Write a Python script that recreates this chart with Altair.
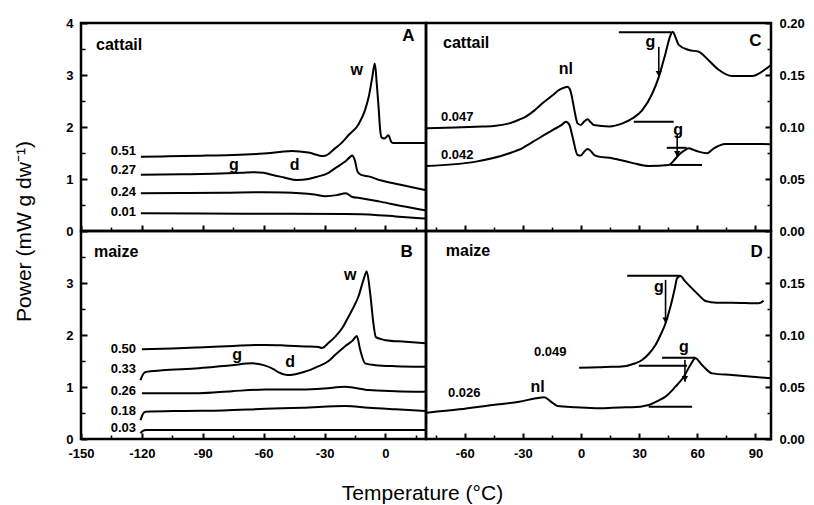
import altair as alt
import pandas as pd

FONT = "Liberation Sans"

# ---------------- Panel A : cattail, -150..20 C ----------------
A_names = ["0.51", "0.27", "0.24", "0.01"]
A_051_T = [-120.5, -110, -100, -88.5, -75, -60, -52, -46, -38, -30.5, -28, -26, -22, -18, -13.3, -10, -8, -6.5, -5.2, -4.2, -3.4, -2.6, -1.9, -0.5, 1.5, 2.8, 4, 10, 19.5]
A_051_P = [1.43, 1.435, 1.44, 1.45, 1.46, 1.49, 1.52, 1.54, 1.51, 1.44, 1.48, 1.55, 1.68, 1.85, 2.05, 2.33, 2.62, 2.95, 3.22, 2.8, 2.4, 1.95, 1.8, 1.78, 1.84, 1.72, 1.69, 1.69, 1.69]
A_027_T = [-120.5, -100, -85, -70.5, -65, -60, -56, -50, -43.6, -38, -34, -28, -24.7, -20, -17.5, -16.4, -15, -13.8, -12, -8.3, -2, 5, 12, 19.5]
A_027_P = [1.08, 1.09, 1.10, 1.12, 1.13, 1.12, 1.08, 1.03, 0.98, 1.0, 1.04, 1.12, 1.21, 1.33, 1.42, 1.45, 1.35, 1.15, 1.08, 1.05, 0.97, 0.91, 0.85, 0.79]
A_024_T = [-120.5, -100, -80, -60, -50, -42, -35, -29.5, -24, -19.5, -16.6, -12, -2, 8, 19.5]
A_024_P = [0.725, 0.73, 0.735, 0.745, 0.74, 0.725, 0.70, 0.67, 0.69, 0.725, 0.66, 0.63, 0.56, 0.48, 0.40]
A_001_T = [-120.5, -90, -50, -20, -5, 5, 19.5]
A_001_P = [0.34, 0.335, 0.33, 0.325, 0.31, 0.28, 0.24]
A_lab_T = [-122.9, -122.9, -122.9, -122.9]
A_lab_P = [1.54, 1.17, 0.755, 0.37]
A_ann_text = ["w", "g", "d"]
A_ann_T = [-14.2, -74.7, -44.7]
A_ann_P = [3.1, 1.27, 1.27]

# ---------------- Panel B : maize, -150..20 C ----------------
B_names = ["0.50", "0.33", "0.26", "0.18", "0.03"]
B_050_T = [-120, -105, -92, -75, -59, -50, -40, -33, -31.3, -28, -24.7, -21, -18.2, -15.5, -13.3, -10.8, -9.2, -7.5, -5.9, -4.7, -2, 0, 10, 19.5]
B_050_P = [1.725, 1.74, 1.76, 1.79, 1.81, 1.80, 1.78, 1.77, 1.75, 1.85, 1.97, 2.15, 2.35, 2.55, 2.74, 3.06, 3.22, 2.80, 2.22, 1.96, 1.92, 1.90, 1.87, 1.84]
B_033_T = [-120.7, -119.5, -118.2, -110, -92, -75.6, -65.7, -60, -55, -52.6, -48.5, -45, -41.1, -37, -32.9, -28, -24.7, -20, -16, -14.1, -12.4, -10, -5, 5, 19.5]
B_033_P = [1.13, 1.24, 1.29, 1.32, 1.36, 1.42, 1.455, 1.42, 1.34, 1.28, 1.23, 1.24, 1.28, 1.33, 1.40, 1.50, 1.62, 1.78, 1.90, 1.98, 1.71, 1.455, 1.42, 1.40, 1.39]
B_026_T = [-120, -100, -92, -75.6, -59.2, -41.1, -30, -19.8, -8.3, 5, 19.5]
B_026_P = [0.88, 0.88, 0.88, 0.92, 0.95, 0.95, 0.97, 1.005, 0.94, 0.92, 0.91]
B_018_T = [-120.7, -119.5, -118.2, -100, -80, -59, -41, -19.8, -8.3, 5, 19.5]
B_018_P = [0.36, 0.48, 0.525, 0.54, 0.55, 0.58, 0.60, 0.635, 0.60, 0.57, 0.54]
B_003_T = [-120.7, -119.5, -118, -60, 0, 19.5]
B_003_P = [0.11, 0.155, 0.175, 0.175, 0.175, 0.175]
B_lab_T = [-122.9] * 5
B_lab_P = [1.73, 1.35, 0.92, 0.54, 0.21]
B_ann_text = ["w", "g", "d"]
B_ann_T = [-17.3, -73.1, -46.9]
B_ann_P = [3.15, 1.615, 1.49]

# ---------------- Panel C : cattail, -80..98 C ----------------
C_names = ["0.047", "0.042"]
C_047_T = [-79.5, -65, -54.2, -45, -37, -32, -28.5, -24, -19.9, -15, -11.3, -8.5, -7, -5.5, -4.4, -3, -1.8, -0.1, 1.5, 3.4, 5, 6.6, 14.5, 21.4, 26.3, 31.5, 36.7, 40.1, 43.6, 46.1, 47.3, 49, 50.4, 55.6, 60.7, 65.9, 71, 77.9, 88.2, 95.1, 98]
C_047_P = [0.0987, 0.0995, 0.1003, 0.101, 0.1035, 0.107, 0.110, 0.116, 0.1228, 0.130, 0.1356, 0.138, 0.1388, 0.135, 0.126, 0.112, 0.1035, 0.102, 0.105, 0.1074, 0.1045, 0.102, 0.1006, 0.1035, 0.108, 0.116, 0.132, 0.148, 0.171, 0.188, 0.1916, 0.185, 0.179, 0.174, 0.1724, 0.164, 0.155, 0.149, 0.149, 0.1555, 0.1596]
C_042_T = [-79.5, -54.2, -37, -30, -23.3, -14.7, -10, -7.8, -6, -4.4, -1.8, -0.1, 1.5, 3.4, 5, 6.8, 9.2, 16, 26.3, 34.9, 45.3, 48, 50.4, 53, 55.6, 58, 60.7, 65, 68.5, 74.5, 85, 98]
C_042_P = [0.0625, 0.0667, 0.0747, 0.080, 0.0875, 0.0971, 0.102, 0.1051, 0.102, 0.0907, 0.0731, 0.0725, 0.076, 0.0788, 0.077, 0.0731, 0.0715, 0.070, 0.0655, 0.0625, 0.0635, 0.068, 0.0731, 0.077, 0.0795, 0.078, 0.0763, 0.0747, 0.0795, 0.0837, 0.0837, 0.0835]
C_lab_T = [-72.3, -72.3]
C_lab_P = [0.1096, 0.073]
C_ann_text = ["nl", "g", "g"]
C_ann_T = [-7.8, 35.8, 50.1]
C_ann_P = [0.156, 0.182, 0.097]
C_line_T1 = [19.5, 27.2, 44.2, 46.1]
C_line_T2 = [46.5, 47.8, 54.5, 62.4]
C_line_Y = [0.191, 0.105, 0.080, 0.0635]
C_arrow_T = [40.1, 49.6]
C_arrow_Y1 = [0.177, 0.0923]
C_arrow_Y2 = [0.1484, 0.0714]

# ---------------- Panel D : maize, -80..98 C ----------------
D_names = ["0.049", "0.026"]
D_049_T = [-1, 9.2, 16.2, 19.5, 28.1, 31.5, 35, 38.4, 41, 43.6, 45.5, 47, 48.5, 49.5, 51.3, 53.5, 55.6, 60.7, 64.2, 70, 77.9, 91.6, 94.2]
D_049_P = [0.0686, 0.0689, 0.0695, 0.0695, 0.0728, 0.076, 0.082, 0.0904, 0.100, 0.1113, 0.123, 0.1337, 0.146, 0.1545, 0.1567, 0.152, 0.148, 0.1385, 0.1327, 0.131, 0.1311, 0.1305, 0.133]
D_026_T = [-79.5, -62.8, -45.6, -31.9, -23.3, -19, -15.6, -12.1, -2.7, 9.2, 23.1, 26.3, 34.9, 40, 43.6, 48.7, 53, 56.4, 59, 62.4, 67.6, 77.9, 98]
D_026_P = [0.0253, 0.0285, 0.0327, 0.0359, 0.0391, 0.0401, 0.036, 0.0317, 0.0305, 0.0295, 0.0305, 0.0305, 0.0327, 0.037, 0.0407, 0.0503, 0.0599, 0.0712, 0.0776, 0.0712, 0.0631, 0.0615, 0.0583]
D_lab_T = [-24.3, -68.7]
D_lab_P = [0.0834, 0.044]
D_ann_text = ["nl", "g", "g"]
D_ann_T = [-22.4, 40.1, 53.0]
D_ann_P = [0.0503, 0.1465, 0.0888]
D_line_T1 = [23.8, 29.8, 41.8, 34.9]
D_line_T2 = [51.3, 54.7, 59.0, 57.3]
D_line_Y = [0.157, 0.0705, 0.0782, 0.031]
D_arrow_T = [43.6, 53.6]
D_arrow_Y1 = [0.153, 0.076]
D_arrow_Y2 = [0.1113, 0.0551]

# panel names / letters (data coordinates)
PANELS = {
    "A": dict(name="cattail", nT=-142.6, nP=3.58, lT=11.3, lP=3.75),
    "B": dict(name="maize", nT=-143.6, nP=3.60, lT=10.4, lP=3.60),
    "C": dict(name="cattail", nT=-71.2, nP=0.1805, lT=89.9, lP=0.183),
    "D": dict(name="maize", nT=-69.8, nP=0.181, lT=90.6, lP=0.180),
}

LEFT_X_MAJOR = [-150, -120, -90, -60, -30, 0]
LEFT_X_MINOR = [-135, -105, -75, -45, -15, 15]
RIGHT_X_MAJOR = [-60, -30, 0, 30, 60, 90]
RIGHT_X_MINOR = [-75, -45, -15, 15, 45, 75]
LEFT_Y_MINOR = [0.5, 1.5, 2.5, 3.5]
RIGHT_Y_MINOR = [0.025, 0.075, 0.125, 0.175]

W, H = 345, 208


def long_df(names, Ts, Ps):
    rows = []
    for name, ts, ps in zip(names, Ts, Ps):
        for i, (t, p) in enumerate(zip(ts, ps)):
            rows.append({"curve": name, "T": t, "P": p, "i": i})
    return pd.DataFrame(rows)


def axis(values, orient, major=True, labels=False, fmt=None, **extra):
    size = 6 if major else 4
    kw = dict(values=values, orient=orient, offset=-size, tickSize=size,
              tickWidth=2 if major else 1.5, tickColor="black",
              domain=False, grid=False, labels=labels)
    if labels:
        kw.update(labelFont=FONT, labelFontSize=13, labelFontWeight="bold",
                  labelColor="black", labelPadding=8, labelFlush=False,
                  labelOverlap=False,
                  labelExpr="replace(datum.label, '\u2212', '-')")
        if fmt:
            kw["format"] = fmt
    kw.update(extra)
    return alt.Axis(**kw)


def panel(key, df, xdom, ydom, xmaj_ax, xmin_ax, ymaj_ax, ymin_ax,
          lab_names, lab_T, lab_P, lab_align, ann_text, ann_T, ann_P,
          xtitle=None, ytitle=None, lines=None, arrows=None):
    xs = alt.Scale(domain=xdom, nice=False, zero=False)
    ys = alt.Scale(domain=ydom, nice=False, zero=False)
    layers = []
    layers.append(
        alt.Chart(df).mark_line(color="black", strokeWidth=2, interpolate="monotone", clip=True).encode(
            x=alt.X("T:Q", scale=xs, axis=xmaj_ax, title=xtitle),
            y=alt.Y("P:Q", scale=ys, axis=ymaj_ax, title=ytitle),
            detail="curve:N", order="i:Q")
    )
    lab_df = pd.DataFrame({"label": lab_names, "T": lab_T, "P": lab_P})
    layers.append(
        alt.Chart(lab_df).mark_text(font=FONT, fontSize=13, fontWeight="bold", align=lab_align,
                                    baseline="middle", color="black").encode(
            x=alt.X("T:Q", scale=xs, axis=xmin_ax, title=None),
            y=alt.Y("P:Q", scale=ys, axis=ymin_ax, title=None),
            text="label:N")
    )
    ann_df = pd.DataFrame({"label": ann_text, "T": ann_T, "P": ann_P})
    layers.append(
        alt.Chart(ann_df).mark_text(font=FONT, fontSize=16, fontWeight="bold", align="center",
                                    baseline="middle", color="black").encode(
            x=alt.X("T:Q", scale=xs, axis=None),
            y=alt.Y("P:Q", scale=ys, axis=None),
            text="label:N")
    )
    p = PANELS[key]
    name_df = pd.DataFrame({"label": [p["name"]], "T": [p["nT"]], "P": [p["nP"]]})
    layers.append(
        alt.Chart(name_df).mark_text(font=FONT, fontSize=16, fontWeight="bold", align="left",
                                     baseline="middle", color="black").encode(
            x=alt.X("T:Q", scale=xs, axis=None),
            y=alt.Y("P:Q", scale=ys, axis=None),
            text="label:N")
    )
    let_df = pd.DataFrame({"label": [key], "T": [p["lT"]], "P": [p["lP"]]})
    layers.append(
        alt.Chart(let_df).mark_text(font=FONT, fontSize=17, fontWeight="bold", align="center",
                                    baseline="middle", color="black").encode(
            x=alt.X("T:Q", scale=xs, axis=None),
            y=alt.Y("P:Q", scale=ys, axis=None),
            text="label:N")
    )
    if lines is not None:
        ldf = pd.DataFrame({"T1": lines[0], "T2": lines[1], "Y": lines[2]})
        layers.append(
            alt.Chart(ldf).mark_rule(color="black", strokeWidth=2).encode(
                x=alt.X("T1:Q", scale=xs, axis=None),
                x2="T2:Q",
                y=alt.Y("Y:Q", scale=ys, axis=None))
        )
    if arrows is not None:
        adf = pd.DataFrame({"T": arrows[0], "Y1": arrows[1], "Y2": arrows[2]})
        layers.append(
            alt.Chart(adf).mark_rule(color="black", strokeWidth=1.6).encode(
                x=alt.X("T:Q", scale=xs, axis=None),
                y=alt.Y("Y1:Q", scale=ys, axis=None),
                y2="Y2:Q")
        )
        layers.append(
            alt.Chart(adf).mark_point(shape="triangle-down", filled=True, size=40, color="black",
                                      opacity=1, yOffset=-3).encode(
                x=alt.X("T:Q", scale=xs, axis=None),
                y=alt.Y("Y2:Q", scale=ys, axis=None))
        )
    return alt.layer(*layers).resolve_axis(x="independent", y="independent").properties(width=W, height=H)


TITLE_KW = dict(titleFont=FONT, titleFontSize=21, titleFontWeight="normal", titleColor="black",
                titleAlign="center", titleBaseline="alphabetic")

dfA = long_df(A_names, [A_051_T, A_027_T, A_024_T, A_001_T], [A_051_P, A_027_P, A_024_P, A_001_P])
dfB = long_df(B_names, [B_050_T, B_033_T, B_026_T, B_018_T, B_003_T], [B_050_P, B_033_P, B_026_P, B_018_P, B_003_P])
dfC = long_df(C_names, [C_047_T, C_042_T], [C_047_P, C_042_P])
dfD = long_df(D_names, [D_049_T, D_026_T], [D_049_P, D_026_P])

chartA = panel(
    "A", dfA, [-150, 20], [0, 4],
    axis(LEFT_X_MAJOR, "bottom"), axis(LEFT_X_MINOR, "bottom", major=False),
    axis([0, 1, 2, 3, 4], "left", labels=True, titleX=-57, titleY=208, titleAngle=270, **TITLE_KW),
    axis(LEFT_Y_MINOR, "left", major=False),
    A_names, A_lab_T, A_lab_P, "right", A_ann_text, A_ann_T, A_ann_P,
    ytitle="Power (mW g dw\u207b\u00b9)")

chartB = panel(
    "B", dfB, [-150, 20], [0, 4],
    axis(LEFT_X_MAJOR, "bottom", labels=True, titleX=341, titleY=66, **TITLE_KW),
    axis(LEFT_X_MINOR, "bottom", major=False),
    axis([0, 1, 2, 3], "left", labels=True),
    axis(LEFT_Y_MINOR, "left", major=False),
    B_names, B_lab_T, B_lab_P, "right", B_ann_text, B_ann_T, B_ann_P,
    xtitle="Temperature (\u00b0C)")

chartC = panel(
    "C", dfC, [-80, 98], [0, 0.2],
    axis(RIGHT_X_MAJOR, "bottom"), axis(RIGHT_X_MINOR, "bottom", major=False),
    axis([0, 0.05, 0.10, 0.15, 0.20], "right", labels=True, fmt=".2f"),
    axis(RIGHT_Y_MINOR, "right", major=False),
    C_names, C_lab_T, C_lab_P, "left", C_ann_text, C_ann_T, C_ann_P,
    lines=(C_line_T1, C_line_T2, C_line_Y), arrows=(C_arrow_T, C_arrow_Y1, C_arrow_Y2))

chartD = panel(
    "D", dfD, [-80, 98], [0, 0.2],
    axis(RIGHT_X_MAJOR, "bottom", labels=True), axis(RIGHT_X_MINOR, "bottom", major=False),
    axis([0, 0.05, 0.10, 0.15], "right", labels=True, fmt=".2f"),
    axis(RIGHT_Y_MINOR, "right", major=False),
    D_names, D_lab_T, D_lab_P, "left", D_ann_text, D_ann_T, D_ann_P,
    lines=(D_line_T1, D_line_T2, D_line_Y), arrows=(D_arrow_T, D_arrow_Y1, D_arrow_Y2))

chart = alt.concat(chartA, chartC, chartB, chartD, columns=2, spacing=0, bounds="flush").properties(
    padding={"left": 11, "top": 15, "right": 0, "bottom": 0},
    background="white",
).configure_view(stroke="black", strokeWidth=2.5)

chart.save("out.html", embed_options={"renderer": "svg", "actions": False})
